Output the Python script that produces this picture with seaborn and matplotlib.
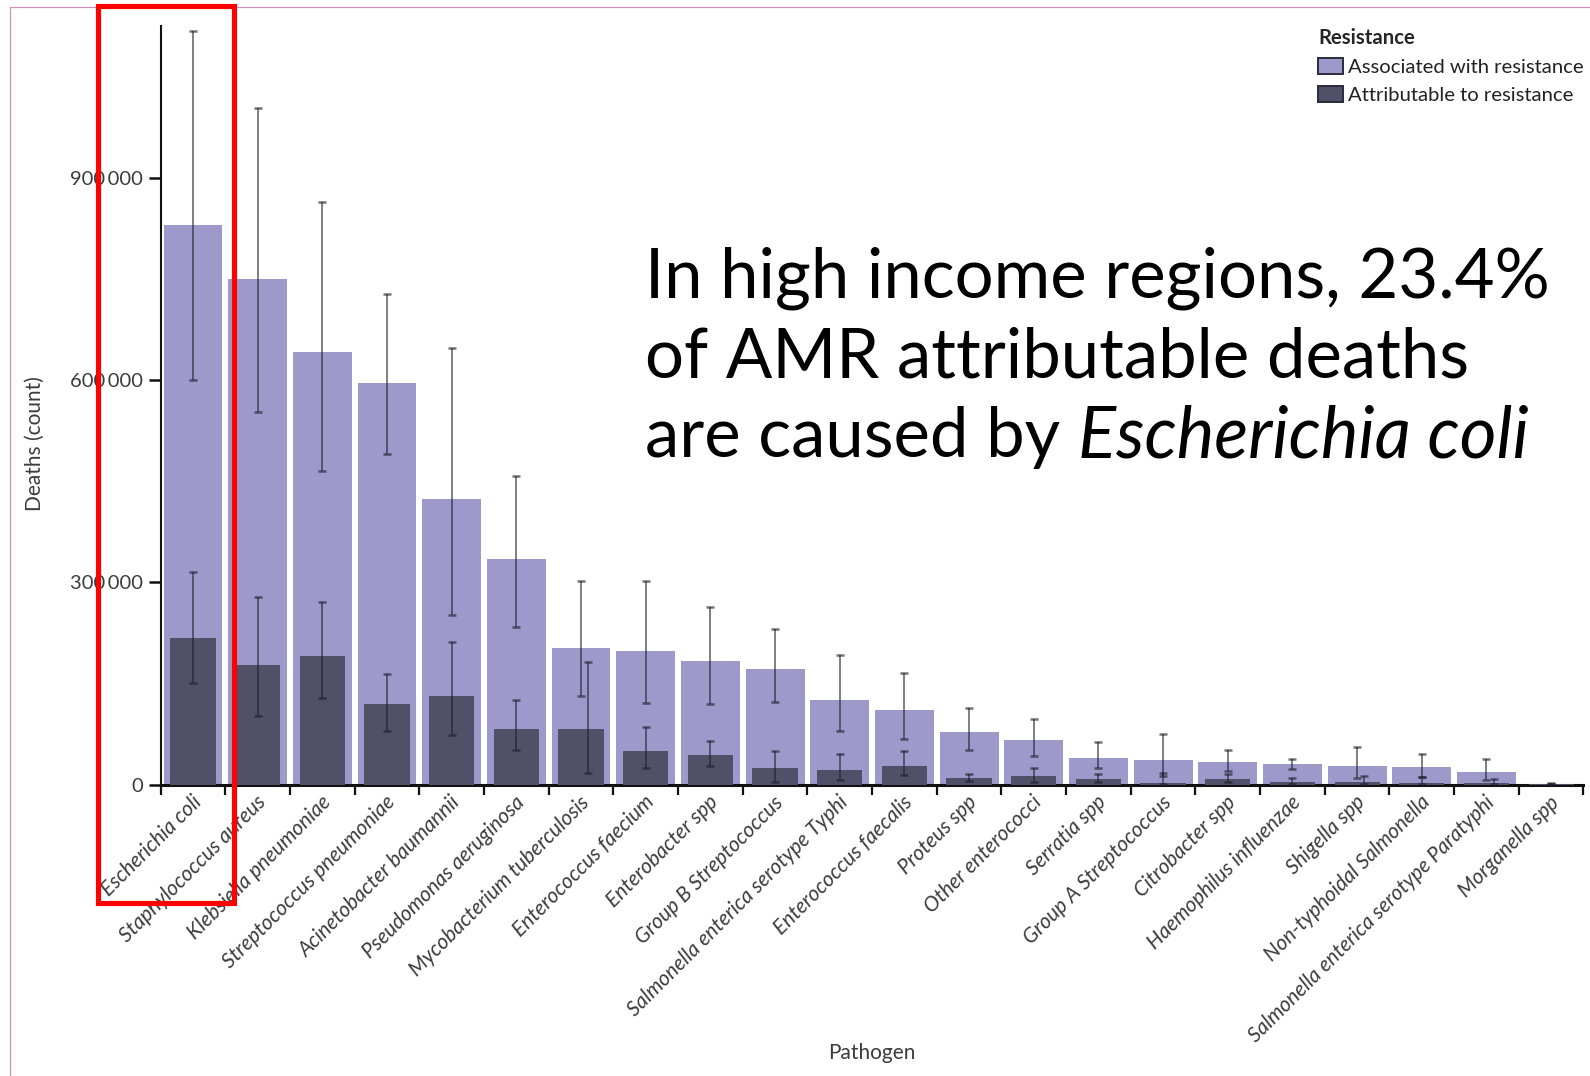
import numpy as np
import pandas as pd
import matplotlib
matplotlib.use("Agg")
import matplotlib.pyplot as plt
import matplotlib.transforms as mtransforms
import seaborn as sns
from matplotlib.patches import Patch, Rectangle
from matplotlib.lines import Line2D
from matplotlib.ticker import FuncFormatter

# ---- data (deaths, count) ----
pathogens = [
    "Escherichia coli", "Staphylococcus aureus", "Klebsiella pneumoniae",
    "Streptococcus pneumoniae", "Acinetobacter baumannii", "Pseudomonas aeruginosa",
    "Mycobacterium tuberculosis", "Enterococcus faecium", "Enterobacter spp",
    "Group B Streptococcus", "Salmonella enterica serotype Typhi",
    "Enterococcus faecalis", "Proteus spp", "Other enterococci", "Serratia spp",
    "Group A Streptococcus", "Citrobacter spp", "Haemophilus influenzae",
    "Shigella spp", "Non-typhoidal Salmonella",
    "Salmonella enterica serotype Paratyphi", "Morganella spp",
]
associated = [830000, 750000, 642000, 596000, 423000, 334000, 203000, 198000,
              183000, 172000, 126000, 110000, 78000, 66000, 40000, 37000,
              34000, 30000, 27000, 25500, 18000, 800]
associated_lo = [600000, 553000, 465000, 490000, 251000, 233000, 132000, 121000,
                 120000, 123000, 79000, 67000, 51000, 42000, 25000, 12000,
                 19600, 23000, 10000, 11600, 7100, 300]
associated_hi = [1118000, 1004000, 864000, 727000, 647000, 457000, 302000, 302000,
                 263000, 231000, 192000, 165000, 113000, 97000, 63500, 75000,
                 51000, 37400, 55600, 44800, 37400, 2700]
attributable = [217000, 177000, 191000, 120000, 131000, 82000, 82000, 50000,
                44000, 24000, 21500, 28000, 9600, 12600, 8700, 2000,
                8200, 4200, 3300, 2700, 1800, 300]
attributable_lo = [151000, 102000, 129000, 80000, 74000, 51000, 17000, 25000,
                   28000, 3000, 6000, 14000, 4700, 3300, 4200, 300,
                   3700, 1000, 300, 200, 200, 0]
attributable_hi = [315000, 278000, 271000, 164000, 212000, 126000, 181000, 86000,
                   65000, 50000, 45000, 50000, 16000, 25000, 15600, 16600,
                   15000, 9200, 13000, 11600, 8700, 1000]
y_ticks = [0, 300000, 600000, 900000]

# pathogens whose attributable interval is drawn slightly to the right
dodged = {"Mycobacterium tuberculosis", "Shigella spp",
          "Salmonella enterica serotype Paratyphi"}

LIGHT = "#9d99cb"
DARK = "#505068"
TEXT = "#3c3c3c"

sns.set_theme(style="ticks")
plt.rcParams["font.family"] = ["Lato", "DejaVu Sans"]

fig = plt.figure(figsize=(15.9, 10.76), dpi=100)
ax = fig.add_axes([0.10107, 0.27091, 0.89484, 0.70493])

df = pd.DataFrame({"pathogen": pathogens,
                   "associated": associated,
                   "attributable": attributable})

sns.barplot(data=df, x="pathogen", y="associated", order=pathogens,
            color=LIGHT, saturation=1, width=0.91, linewidth=0,
            errorbar=None, ax=ax, zorder=2)
sns.barplot(data=df, x="pathogen", y="attributable", order=pathogens,
            color=DARK, saturation=1, width=0.70, linewidth=0,
            errorbar=None, ax=ax, zorder=3)

x = np.arange(len(pathogens))
a = np.array(associated, float)
r = np.array(attributable, float)
shift = np.array([0.11 if p in dodged else 0.0 for p in pathogens])

err_kw = dict(fmt="none", ecolor="#1e1e2c", alpha=0.62, elinewidth=1.3,
              capsize=2.6, capthick=1.8, zorder=5)
ax.errorbar(x, a, yerr=[a - np.array(associated_lo), np.array(associated_hi) - a],
            **err_kw)
ax.errorbar(x + shift, r,
            yerr=[r - np.array(attributable_lo), np.array(attributable_hi) - r],
            **err_kw)

# axes styling
n = len(pathogens)
ax.set_xlim(-0.5, n - 0.5)
ax.set_ylim(0, 1125000)
ax.set_yticks(y_ticks)
ax.yaxis.set_major_formatter(
    FuncFormatter(lambda v, _: f"{int(v):,}".replace(",", "\u2009")))
ax.set_xticks(x)
ax.set_xticklabels(pathogens)
ax.set_xticks(np.arange(-0.5, n, 1.0), minor=True)

sns.despine(ax=ax)
ax.spines["left"].set_linewidth(1.5)
ax.spines["bottom"].set_linewidth(2.2)
ax.spines["left"].set_color("#111111")
ax.spines["bottom"].set_color("#111111")

ax.tick_params(axis="y", length=8.5, width=1.8, color="#111111", pad=4,
               labelsize=14.5, labelcolor=TEXT)
ax.tick_params(axis="x", which="major", length=0, pad=5.5,
               labelsize=15, labelcolor=TEXT)
ax.tick_params(axis="x", which="minor", length=7.5, width=1.6, color="#111111")

offset = mtransforms.ScaledTranslation(-2 / 100, 0, fig.dpi_scale_trans)
for lbl in ax.get_xticklabels():
    lbl.set_rotation(45)
    lbl.set_rotation_mode("anchor")
    lbl.set_ha("right")
    lbl.set_va("top")
    lbl.set_fontstyle("italic")
    lbl.set_transform(lbl.get_transform() + offset)

ax.set_xlabel("Pathogen", fontsize=15, color=TEXT)
ax.set_ylabel("Deaths (count)", fontsize=15, color=TEXT)
ax.xaxis.set_label_coords(0.5, -0.3408)
ax.yaxis.set_label_coords(-0.0813, 0.449)

# legend
handles = [Patch(facecolor=LIGHT, edgecolor="#2a2a3a", linewidth=1.4,
                 label="Associated with resistance"),
           Patch(facecolor=DARK, edgecolor="#2a2a3a", linewidth=1.4,
                 label="Attributable to resistance")]
leg = fig.legend(handles=handles, title="Resistance", loc="upper left",
                 bbox_to_anchor=(1318 / 1590, 1 - 28 / 1076), frameon=False,
                 fontsize=14.6, title_fontproperties={"weight": "bold", "size": 14.6},
                 alignment="left", handlelength=1.25, handleheight=0.8,
                 handletextpad=0.25, labelspacing=0.5, borderpad=0,
                 borderaxespad=0)
for t in leg.get_texts():
    t.set_color("#222222")

# headline text
big = dict(fontsize=49.6, color="black", ha="left", va="baseline")
x0 = 645 / 1590
fig.text(x0, 1 - 297 / 1076, "In high income regions, 23.4%", **big)
fig.text(x0, 1 - 377 / 1076, "of AMR attributable deaths", **big)
t3 = fig.text(x0, 1 - 457 / 1076, "are caused by ", **big)
fig.canvas.draw()
bb = t3.get_window_extent(renderer=fig.canvas.get_renderer())
x_end = fig.transFigure.inverted().transform((bb.x1, 0))[0]
big_it = dict(big, fontsize=51)
fig.text(x_end, 1 - 457 / 1076, "Escherichia coli", style="italic", **big_it)

# slide frame lines and highlight box
frame_c = "#c990b8"
fig.add_artist(Line2D([10 / 1590, 10 / 1590], [0, 1 - 7 / 1076],
                      transform=fig.transFigure, color=frame_c, lw=0.9))
fig.add_artist(Line2D([10 / 1590, 1], [1 - 7 / 1076, 1 - 7 / 1076],
                      transform=fig.transFigure, color=frame_c, lw=0.9))
fig.add_artist(Rectangle((98 / 1590, 1 - 902.5 / 1076), 135.5 / 1590,
                         896.7 / 1076, transform=fig.transFigure, fill=False,
                         edgecolor="#ff0000", linewidth=3.7, zorder=100))

fig.savefig("out.png", dpi=100)
